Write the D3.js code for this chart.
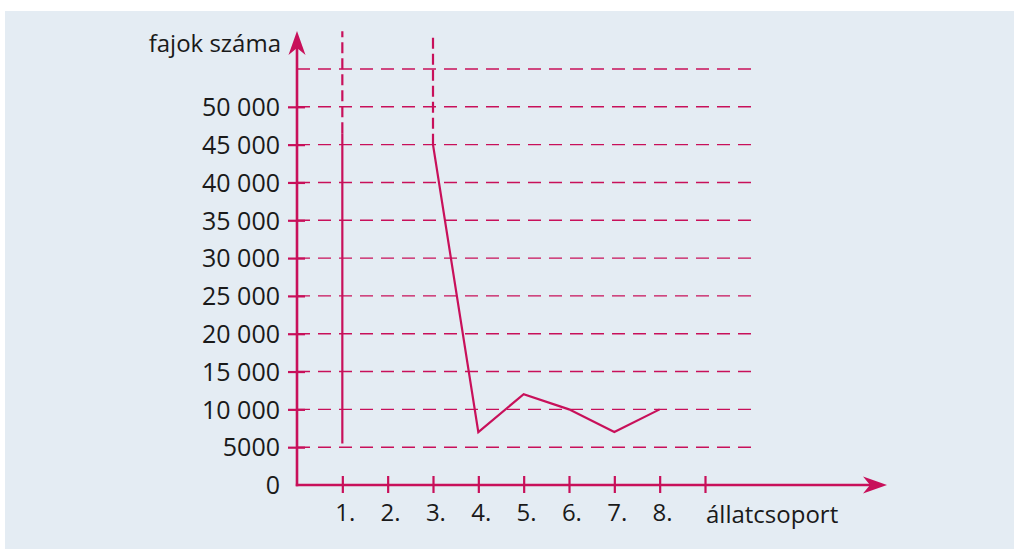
<!DOCTYPE html>
<html>
<head>
<meta charset="utf-8">
<script src="https://cdn.jsdelivr.net/npm/d3@7"></script>
<style>
  html, body { margin: 0; padding: 0; background: #ffffff; }
  svg { display: block; }
  text { font-family: "Open Sans", "Noto Sans", sans-serif; fill: #1a1a1a; }
</style>
</head>
<body>
<script>
// ---- data ----
const categories = ["1.", "2.", "3.", "4.", "5.", "6.", "7.", "8."];
const xAxisTitle = "állatcsoport";
const yAxisTitle = "fajok száma";
const yTickValues = [0, 5000, 10000, 15000, 20000, 25000, 30000, 35000, 40000, 45000, 50000];
const yTickLabels = ["0", "5000", "10 000", "15 000", "20 000", "25 000", "30 000", "35 000", "40 000", "45 000", "50 000"];
const gridValues = [5000, 10000, 15000, 20000, 25000, 30000, 35000, 40000, 45000, 50000, 55000];
// group 1: value far off the chart (solid part shown, then dashed "continues")
const group1Solid = [[1, 5500], [1, 46500]];
const group1Dashed = [[1, 46500], [1, 60000]];
// groups 3..8
const seriesX = [3, 4, 5, 6, 7, 8];
const seriesValues = [45000, 7000, 12000, 10000, 7000, 10000];
const group3Dashed = [[3, 45000], [3, 59300]];

// ---- drawing ----
const W = 1014, H = 549;
const red = "#c8105a";
const svg = d3.select("body").append("svg").attr("width", W).attr("height", H);

svg.append("rect").attr("x", 5).attr("y", 11).attr("width", W - 5).attr("height", H - 11)
  .attr("fill", "#e4ecf3");

const x = d3.scaleLinear().domain([0, 9]).range([297, 705]);
const y = d3.scaleLinear().domain([0, 55000]).range([485, 69]);

// grid lines
svg.append("g").selectAll("line").data(gridValues).join("line")
  .attr("x1", x(0)).attr("x2", x(10) + 1)
  .attr("y1", d => y(d)).attr("y2", d => y(d))
  .attr("stroke", red).attr("stroke-width", 1.4)
  .attr("stroke-dasharray", "13,8");

// y axis with ticks
const yAxis = d3.axisLeft(y).tickValues(yTickValues)
  .tickFormat((d, i) => yTickLabels[i]).tickSize(9).tickPadding(8);
const gy = svg.append("g").attr("transform", `translate(${x(0)},0)`).call(yAxis);
gy.select(".domain").remove();
gy.selectAll(".tick line").attr("stroke", red).attr("stroke-width", 2.2)
  .attr("x2", 8).attr("x1", -9);
gy.selectAll(".tick").filter(d => d === 0).select("line").remove();
gy.selectAll(".tick text").attr("font-size", 25).attr("fill", "#1a1a1a")
  .style("font-family", "'Open Sans', sans-serif").attr("dy", "0.35em");

// x axis with ticks
const xAxis = d3.axisBottom(x).tickValues(d3.range(1, 10))
  .tickFormat(d => d <= categories.length ? categories[d - 1] : "").tickSize(8).tickPadding(11);
const gx = svg.append("g").attr("transform", `translate(0,${y(0)})`).call(xAxis);
gx.select(".domain").remove();
gx.selectAll(".tick line").attr("stroke", red).attr("stroke-width", 2.2)
  .attr("y1", -9).attr("y2", 8);
gx.selectAll(".tick text").attr("font-size", 24).attr("fill", "#1a1a1a")
  .style("font-family", "'Open Sans', sans-serif").attr("dx", "0.1em");

// axis lines
svg.append("line").attr("x1", x(0)).attr("x2", x(0)).attr("y1", y(0) + 1.2).attr("y2", 48)
  .attr("stroke", red).attr("stroke-width", 2.6);
svg.append("line").attr("x1", x(0) - 1.2).attr("x2", 872).attr("y1", y(0)).attr("y2", y(0))
  .attr("stroke", red).attr("stroke-width", 2.6);

// arrowheads
const ax = x(0);
svg.append("path")
  .attr("d", `M${ax},31 L${ax + 8.5},55 L${ax},48 L${ax - 8.5},55 Z`)
  .attr("fill", red);
const ay = y(0);
svg.append("path")
  .attr("d", `M887,${ay} L863,${ay - 8.5} L870,${ay} L863,${ay + 8.5} Z`)
  .attr("fill", red);

// axis titles
svg.append("text").attr("x", 281).attr("y", 52).attr("text-anchor", "end")
  .attr("font-size", 24).text(yAxisTitle);
svg.append("text").attr("x", x(9) + 1).attr("y", 523).attr("text-anchor", "start")
  .attr("font-size", 24).text(xAxisTitle);

// data lines
const line = d3.line().x(d => x(d[0])).y(d => y(d[1]));
svg.append("path").datum(group1Solid).attr("d", line)
  .attr("fill", "none").attr("stroke", red).attr("stroke-width", 2.2);
svg.append("path").datum(group1Dashed).attr("d", line)
  .attr("fill", "none").attr("stroke", red).attr("stroke-width", 2.2)
  .attr("stroke-dasharray", "11,5");
svg.append("path").datum(seriesX.map((v, i) => [v, seriesValues[i]])).attr("d", line)
  .attr("fill", "none").attr("stroke", red).attr("stroke-width", 2.2)
  .attr("stroke-linejoin", "miter");
svg.append("path").datum(group3Dashed).attr("d", line)
  .attr("fill", "none").attr("stroke", red).attr("stroke-width", 2.2)
  .attr("stroke-dasharray", "11,5");
</script>
</body>
</html>
